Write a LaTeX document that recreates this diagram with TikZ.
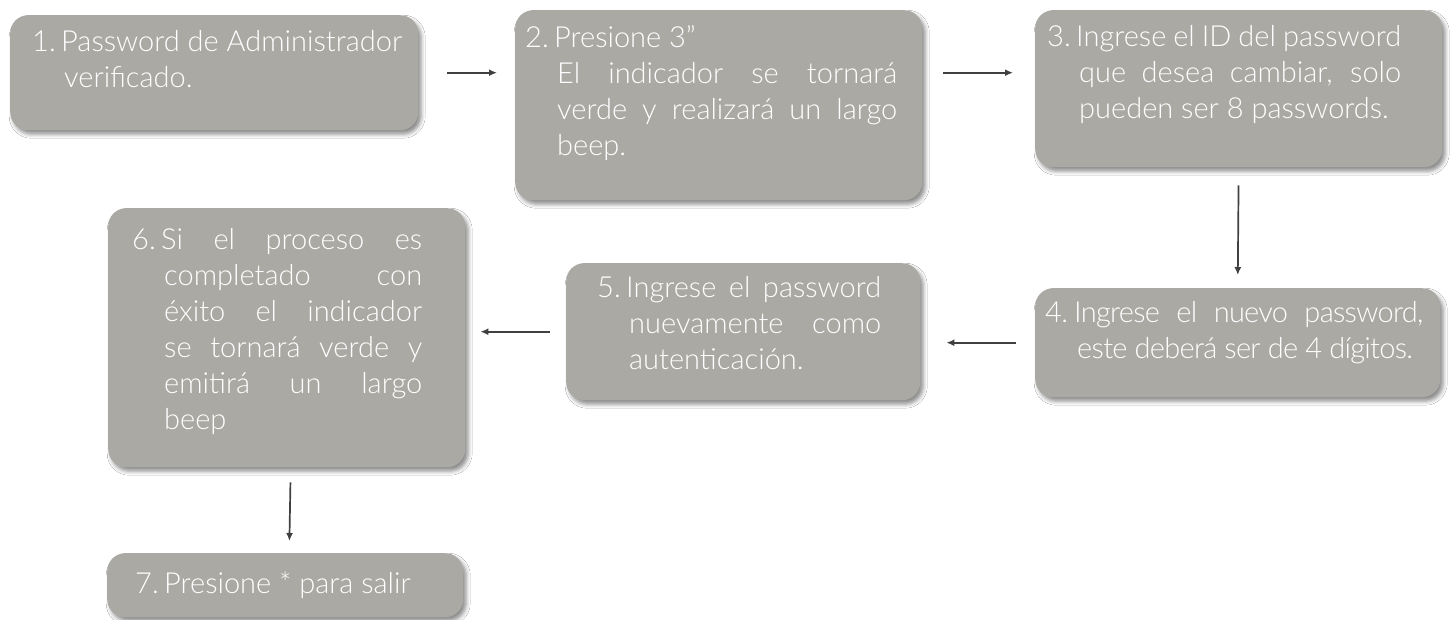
\documentclass[tikz,border=0pt]{standalone}
\usepackage{fontspec}
\setmainfont{Lato Light}
\usetikzlibrary{arrows.meta,shadows.blur}

\definecolor{boxgray}{HTML}{ABA9A4}
\definecolor{arrowgray}{HTML}{404040}
\hbadness=10000

% text of one step: box width, box height, left pad, text width, top pad, number, text
\newcommand{\stepbody}[7]{%
  \parbox[c][#2pt][t]{#1pt}{\vspace*{#5pt}%
    \leftskip=#3pt \rightskip=\dimexpr#1pt-#3pt-#4pt\relax
    \hangindent=32pt \hangafter=1
    \noindent\makebox[29pt][l]{#6.}#7\par}}

\tikzset{
  stepbox/.style={rectangle, rounded corners=18pt, fill=boxgray, text=white,
    inner sep=0pt, anchor=north west, font=\fontsize{29}{36}\selectfont,
    blur shadow={shadow xshift=3pt, shadow yshift=-4pt, shadow blur radius=4pt, shadow opacity=45}},
  flow/.style={-{Latex[length=8pt,width=7pt]}, line width=1.7pt, draw=arrowgray}
}

\begin{document}
\begin{tikzpicture}[x=1pt,y=-1pt]
    \useasboundingbox[fill=white] (0,0) rectangle (1454,620);

    % Steps
    \node[stepbox] (b1) at (10,15) {\stepbody{408}{115}{22}{370}{15}{1}{Password de Administrador\\ verificado.}};
    \node[stepbox] (b2) at (515,10) {\stepbody{407}{190}{10}{372}{15}{2}{Presione 3”\\ El indicador se tornará\linebreak verde y realizará un largo\linebreak beep.}};
    \node[stepbox] (b3) at (1035,10) {\stepbody{407}{157}{12}{354}{15}{3}{Ingrese el ID del password\linebreak que desea cambiar, solo\linebreak pueden ser 8 passwords.}};
    \node[stepbox] (b4) at (1035,288) {\addfontfeatures{LetterSpace=-2.5}\stepbody{405}{109}{10}{378}{13}{4}{Ingrese el nuevo password,\linebreak este deberá ser de 4 dígitos.}};
    \node[stepbox] (b5) at (566,263) {\stepbody{354}{137}{31}{284}{13}{5}{Ingrese el password\linebreak nuevamente como\linebreak autenticación.}};
    \node[stepbox] (b6) at (108,208) {\stepbody{357}{259}{24}{290}{20}{6}{Si el proceso es\linebreak completado con\linebreak éxito el indicador\linebreak se tornará verde y\linebreak emitirá un largo\linebreak beep}};
    \node[stepbox] (b7) at (107,553) {\stepbody{356}{64}{28}{310}{19}{7}{Presione * para salir}};

    % Arrows
    \draw[flow, shorten <=29pt, shorten >=18pt] (b1.east) -- (b1.east -| b2.west);
    \draw[flow, shorten <=21pt, shorten >=22pt] (b2.east |- b1.east) -- (b3.west |- b1.east);
    \draw[flow, shorten <=18pt, shorten >=13pt] (b3.south) -- (b4.north);
    \draw[flow, shorten <=19pt, shorten >=26pt] (b4.west) -- (b4.west -| b5.east);
    \draw[flow, shorten <=16pt, shorten >=15pt] (b5.west) -- (b5.west -| b6.east);
    \draw[flow, shorten <=15pt, shorten >=12pt] ([xshift=4pt]b6.south) -- ([xshift=4pt]b7.north);
\end{tikzpicture}
\end{document}
